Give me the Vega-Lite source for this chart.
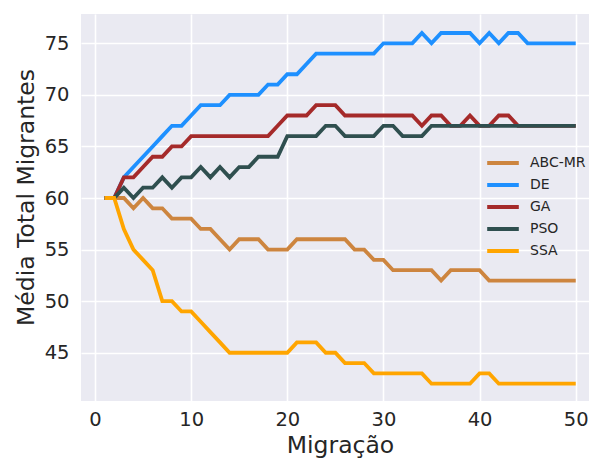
{
  "$schema": "https://vega.github.io/schema/vega-lite/v6.json",
  "width": 508,
  "height": 387,
  "autosize": "none",
  "padding": {"left": 81, "top": 14, "right": 0, "bottom": 58},
  "background": "white",
  "config": {
    "font": "DejaVu Sans",
    "view": {"fill": "#EAEAF2", "stroke": null},
    "axis": {
      "grid": true, "gridColor": "white", "gridWidth": 1.6, "domain": false, "ticks": false,
      "labelFont": "DejaVu Sans", "labelFontSize": 19.5, "labelColor": "#262626",
      "titleFont": "DejaVu Sans", "titleFontSize": 23.5, "titleFontWeight": "normal", "titleColor": "#262626"
    },
    "legend": {"labelFont": "DejaVu Sans"}
  },
  "data": {
    "values": [
      {"m": 1, "ABC-MR": 60, "DE": 60, "GA": 60, "PSO": 60, "SSA": 60},
      {"m": 2, "ABC-MR": 60, "DE": 60, "GA": 60, "PSO": 60, "SSA": 60},
      {"m": 3, "ABC-MR": 60, "DE": 62, "GA": 62, "PSO": 61, "SSA": 57},
      {"m": 4, "ABC-MR": 59, "DE": 63, "GA": 62, "PSO": 60, "SSA": 55},
      {"m": 5, "ABC-MR": 60, "DE": 64, "GA": 63, "PSO": 61, "SSA": 54},
      {"m": 6, "ABC-MR": 59, "DE": 65, "GA": 64, "PSO": 61, "SSA": 53},
      {"m": 7, "ABC-MR": 59, "DE": 66, "GA": 64, "PSO": 62, "SSA": 50},
      {"m": 8, "ABC-MR": 58, "DE": 67, "GA": 65, "PSO": 61, "SSA": 50},
      {"m": 9, "ABC-MR": 58, "DE": 67, "GA": 65, "PSO": 62, "SSA": 49},
      {"m": 10, "ABC-MR": 58, "DE": 68, "GA": 66, "PSO": 62, "SSA": 49},
      {"m": 11, "ABC-MR": 57, "DE": 69, "GA": 66, "PSO": 63, "SSA": 48},
      {"m": 12, "ABC-MR": 57, "DE": 69, "GA": 66, "PSO": 62, "SSA": 47},
      {"m": 13, "ABC-MR": 56, "DE": 69, "GA": 66, "PSO": 63, "SSA": 46},
      {"m": 14, "ABC-MR": 55, "DE": 70, "GA": 66, "PSO": 62, "SSA": 45},
      {"m": 15, "ABC-MR": 56, "DE": 70, "GA": 66, "PSO": 63, "SSA": 45},
      {"m": 16, "ABC-MR": 56, "DE": 70, "GA": 66, "PSO": 63, "SSA": 45},
      {"m": 17, "ABC-MR": 56, "DE": 70, "GA": 66, "PSO": 64, "SSA": 45},
      {"m": 18, "ABC-MR": 55, "DE": 71, "GA": 66, "PSO": 64, "SSA": 45},
      {"m": 19, "ABC-MR": 55, "DE": 71, "GA": 67, "PSO": 64, "SSA": 45},
      {"m": 20, "ABC-MR": 55, "DE": 72, "GA": 68, "PSO": 66, "SSA": 45},
      {"m": 21, "ABC-MR": 56, "DE": 72, "GA": 68, "PSO": 66, "SSA": 46},
      {"m": 22, "ABC-MR": 56, "DE": 73, "GA": 68, "PSO": 66, "SSA": 46},
      {"m": 23, "ABC-MR": 56, "DE": 74, "GA": 69, "PSO": 66, "SSA": 46},
      {"m": 24, "ABC-MR": 56, "DE": 74, "GA": 69, "PSO": 67, "SSA": 45},
      {"m": 25, "ABC-MR": 56, "DE": 74, "GA": 69, "PSO": 67, "SSA": 45},
      {"m": 26, "ABC-MR": 56, "DE": 74, "GA": 68, "PSO": 66, "SSA": 44},
      {"m": 27, "ABC-MR": 55, "DE": 74, "GA": 68, "PSO": 66, "SSA": 44},
      {"m": 28, "ABC-MR": 55, "DE": 74, "GA": 68, "PSO": 66, "SSA": 44},
      {"m": 29, "ABC-MR": 54, "DE": 74, "GA": 68, "PSO": 66, "SSA": 43},
      {"m": 30, "ABC-MR": 54, "DE": 75, "GA": 68, "PSO": 67, "SSA": 43},
      {"m": 31, "ABC-MR": 53, "DE": 75, "GA": 68, "PSO": 67, "SSA": 43},
      {"m": 32, "ABC-MR": 53, "DE": 75, "GA": 68, "PSO": 66, "SSA": 43},
      {"m": 33, "ABC-MR": 53, "DE": 75, "GA": 68, "PSO": 66, "SSA": 43},
      {"m": 34, "ABC-MR": 53, "DE": 76, "GA": 67, "PSO": 66, "SSA": 43},
      {"m": 35, "ABC-MR": 53, "DE": 75, "GA": 68, "PSO": 67, "SSA": 42},
      {"m": 36, "ABC-MR": 52, "DE": 76, "GA": 68, "PSO": 67, "SSA": 42},
      {"m": 37, "ABC-MR": 53, "DE": 76, "GA": 67, "PSO": 67, "SSA": 42},
      {"m": 38, "ABC-MR": 53, "DE": 76, "GA": 67, "PSO": 67, "SSA": 42},
      {"m": 39, "ABC-MR": 53, "DE": 76, "GA": 68, "PSO": 67, "SSA": 42},
      {"m": 40, "ABC-MR": 53, "DE": 75, "GA": 67, "PSO": 67, "SSA": 43},
      {"m": 41, "ABC-MR": 52, "DE": 76, "GA": 67, "PSO": 67, "SSA": 43},
      {"m": 42, "ABC-MR": 52, "DE": 75, "GA": 68, "PSO": 67, "SSA": 42},
      {"m": 43, "ABC-MR": 52, "DE": 76, "GA": 68, "PSO": 67, "SSA": 42},
      {"m": 44, "ABC-MR": 52, "DE": 76, "GA": 67, "PSO": 67, "SSA": 42},
      {"m": 45, "ABC-MR": 52, "DE": 75, "GA": 67, "PSO": 67, "SSA": 42},
      {"m": 46, "ABC-MR": 52, "DE": 75, "GA": 67, "PSO": 67, "SSA": 42},
      {"m": 47, "ABC-MR": 52, "DE": 75, "GA": 67, "PSO": 67, "SSA": 42},
      {"m": 48, "ABC-MR": 52, "DE": 75, "GA": 67, "PSO": 67, "SSA": 42},
      {"m": 49, "ABC-MR": 52, "DE": 75, "GA": 67, "PSO": 67, "SSA": 42},
      {"m": 50, "ABC-MR": 52, "DE": 75, "GA": 67, "PSO": 67, "SSA": 42}
    ]
  },
  "transform": [
    {"fold": ["ABC-MR", "DE", "GA", "PSO", "SSA"], "as": ["alg", "v"]}
  ],
  "mark": {"type": "line", "strokeWidth": 3.8, "clip": true},
  "encoding": {
    "x": {
      "field": "m", "type": "quantitative",
      "scale": {"domain": [-1.456, 51.38], "nice": false, "zero": false},
      "axis": {"values": [0, 10, 20, 30, 40, 50], "labelPadding": 9, "title": "Migração", "titleX": 259, "titleY": 51.5, "titleBaseline": "alphabetic", "titleAlign": "center", "titleAnchor": null}
    },
    "y": {
      "field": "v", "type": "quantitative",
      "scale": {"domain": [40.32, 77.84], "nice": false, "zero": false},
      "axis": {"values": [45, 50, 55, 60, 65, 70, 75], "labelPadding": 12, "title": "Média Total Migrantes", "titleX": -48, "titleY": 183, "titleBaseline": "alphabetic", "titleAlign": "center", "titleAngle": 270}
    },
    "color": {
      "field": "alg", "type": "nominal",
      "scale": {"domain": ["ABC-MR", "DE", "GA", "PSO", "SSA"], "range": ["#CD853F", "#1E90FF", "#A52A2A", "#2F4F4F", "#FFA500"]},
      "legend": {
        "title": null, "orient": "none", "legendX": 404, "legendY": 139, "padding": 0,
        "symbolType": "stroke", "symbolSize": 1000, "symbolStrokeWidth": 4,
        "clipHeight": 20, "rowPadding": 2, "labelOffset": 9,
        "labelFontSize": 14, "labelColor": "#262626"
      }
    }
  }
}
